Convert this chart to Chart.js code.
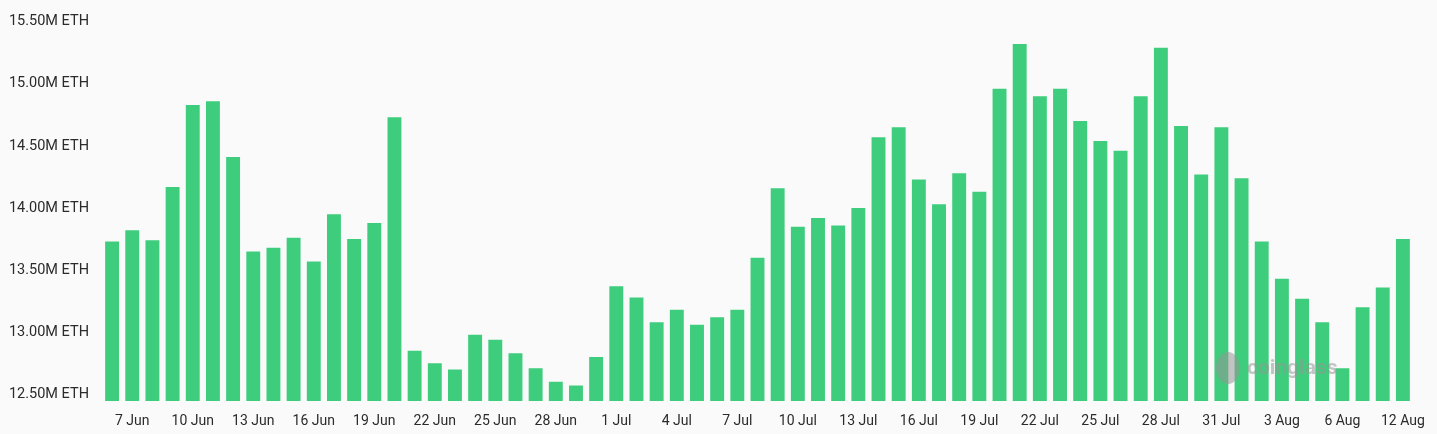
<!DOCTYPE html>
<html>
<head>
<meta charset="utf-8">
<script src="https://cdn.jsdelivr.net/npm/chart.js@4.4.1/dist/chart.umd.min.js"></script>
<style>
  html, body { margin: 0; padding: 0; background: #fafafa; }
  #wrap { width: 1437px; height: 434px; }
</style>
</head>
<body>
<div id="wrap"><canvas id="myChart"></canvas></div>
<script>
const days = [
  '6 Jun','7 Jun','8 Jun','9 Jun','10 Jun','11 Jun','12 Jun','13 Jun','14 Jun','15 Jun',
  '16 Jun','17 Jun','18 Jun','19 Jun','20 Jun','21 Jun','22 Jun','23 Jun','24 Jun','25 Jun',
  '26 Jun','27 Jun','28 Jun','29 Jun','30 Jun','1 Jul','2 Jul','3 Jul','4 Jul','5 Jul',
  '6 Jul','7 Jul','8 Jul','9 Jul','10 Jul','11 Jul','12 Jul','13 Jul','14 Jul','15 Jul',
  '16 Jul','17 Jul','18 Jul','19 Jul','20 Jul','21 Jul','22 Jul','23 Jul','24 Jul','25 Jul',
  '26 Jul','27 Jul','28 Jul','29 Jul','30 Jul','31 Jul','1 Aug','2 Aug','3 Aug','4 Aug',
  '5 Aug','6 Aug','10 Aug','11 Aug','12 Aug'
];

// balance in millions of ETH
const balance = [
  13.73, 13.82, 13.74, 14.17, 14.83, 14.86, 14.41, 13.65, 13.68, 13.76,
  13.57, 13.95, 13.75, 13.88, 14.73, 12.85, 12.75, 12.70, 12.98, 12.94,
  12.83, 12.71, 12.60, 12.57, 12.80, 13.37, 13.28, 13.08, 13.18, 13.06,
  13.12, 13.18, 13.60, 14.16, 13.85, 13.92, 13.86, 14.00, 14.57, 14.65,
  14.23, 14.03, 14.28, 14.13, 14.96, 15.32, 14.90, 14.96, 14.70, 14.54,
  14.46, 14.90, 15.29, 14.66, 14.27, 14.65, 14.24, 13.73, 13.43, 13.27,
  13.08, 12.71, 13.20, 13.36, 13.75
];

const yTicks = [12.5, 13.0, 13.5, 14.0, 14.5, 15.0, 15.5];

const watermark = {
  id: 'watermark',
  afterDatasetsDraw(chart) {
    const ctx = chart.ctx;
    ctx.save();
    ctx.fillStyle = 'rgba(150,150,150,0.55)';
    ctx.beginPath();
    ctx.ellipse(1228, 368, 12, 16, 0, 0, Math.PI * 2);
    ctx.fill();
    ctx.font = 'bold 21px Roboto';
    ctx.textBaseline = 'alphabetic';
    ctx.fillText('coinglass', 1247, 374);
    ctx.restore();
  }
};

new Chart('myChart', {
  type: 'bar',
  data: {
    labels: days,
    datasets: [{
      label: 'ETH balance',
      data: balance,
      backgroundColor: '#3ecd7c',
      borderWidth: 0,
      categoryPercentage: 1,
      barPercentage: 0.69
    }]
  },
  options: {
    responsive: true,
    maintainAspectRatio: false,
    animation: false,
    layout: { padding: { left: 10, right: 22, top: 21, bottom: 0 } },
    plugins: { legend: { display: false }, tooltip: { enabled: false } },
    scales: {
      x: {
        grid: { display: false, drawTicks: false },
        border: { display: false },
        afterFit: (s) => { s.height = 33; },
        ticks: {
          autoSkip: false,
          maxRotation: 0,
          padding: 12,
          color: '#2b2b2b',
          font: { family: 'Roboto', size: 14 },
          callback: function (v, i) { return i % 3 === 1 ? this.getLabelForValue(v) : ''; }
        }
      },
      y: {
        min: 12.446,
        max: 15.5,
        grid: { display: false, drawTicks: false },
        border: { display: false },
        afterFit: (s) => { s.width = 92; },
        afterBuildTicks: (s) => { s.ticks = yTicks.map(v => ({ value: v })); },
        ticks: {
          padding: 13,
          color: '#2b2b2b',
          font: { family: 'Roboto', size: 14.5 },
          callback: (v) => v.toFixed(2) + 'M ETH'
        }
      }
    }
  },
  plugins: [watermark]
});
</script>
</body>
</html>
